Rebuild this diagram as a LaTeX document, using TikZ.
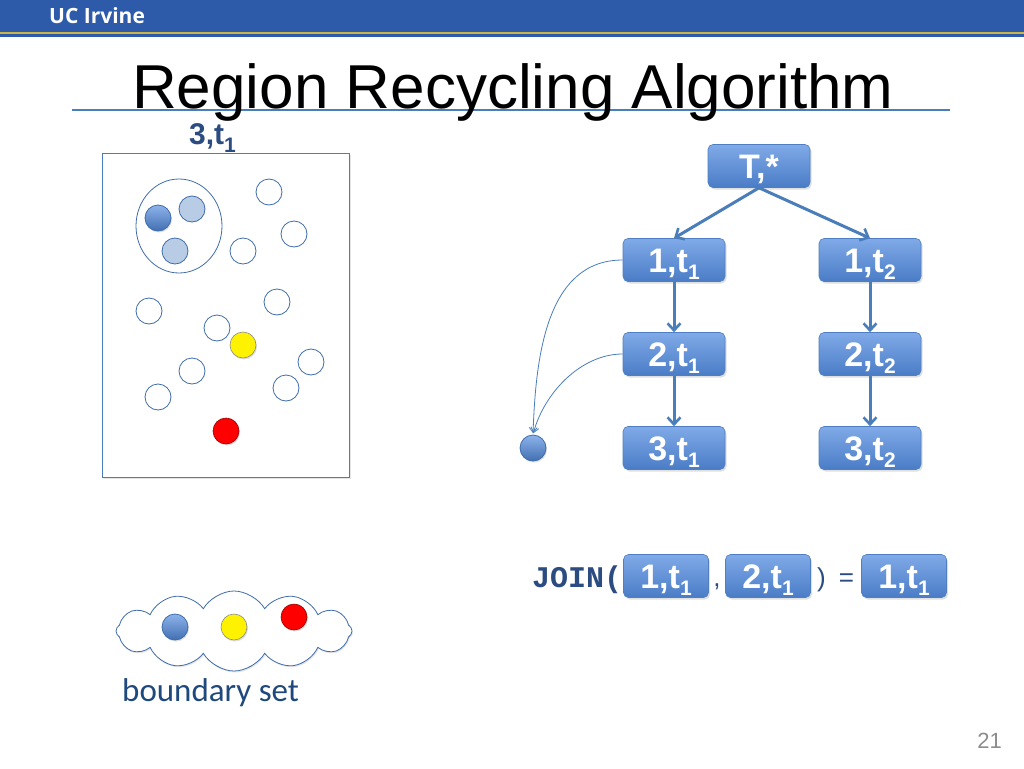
\documentclass[tikz,border=0pt]{standalone}
\usepackage{fontspec}
\setmainfont{Liberation Sans}
\newfontfamily\hdrfont{Open Sans}
\newfontfamily\calfont{Carlito}
\newfontfamily\codefont{Liberation Mono}
\usetikzlibrary{arrows.meta,shapes.symbols,shapes.geometric,shadows}
\definecolor{hdrblue}{HTML}{2D5BAA}
\definecolor{hdrgold}{HTML}{C9B54A}
\definecolor{lineblue}{HTML}{4A7EBB}
\definecolor{circblue}{HTML}{3F6CAB}
\definecolor{boxtop}{HTML}{80AAE8}
\definecolor{boxbot}{HTML}{4A7CC6}
\definecolor{boxedge}{HTML}{4F7FC0}
\definecolor{darkblue}{HTML}{2A4C80}
\definecolor{textblue}{HTML}{1F497D}
\definecolor{ltblue}{HTML}{B8CCE6}
\definecolor{pagegrey}{HTML}{8C8C8C}
\newcommand{\lsub}[2][-7pt]{\raisebox{#1}{\fontsize{21}{21}\selectfont #2}}
\tikzset{
  tbox/.style={rounded corners=5pt, minimum width=102pt, minimum height=43pt,
    top color=boxtop, bottom color=boxbot, draw=boxedge, line width=0.6pt,
    text=white, font=\bfseries\fontsize{34}{34}\selectfont, inner sep=0pt,
    text height=25pt, text depth=0pt,
    drop shadow={shadow xshift=1.5pt, shadow yshift=-2pt, opacity=0.25}},
  jbox/.style={tbox, minimum width=85pt},
  ring/.style={circle, minimum size=26pt, inner sep=0pt, draw=circblue, line width=0.8pt, fill=white},
  dotblue/.style={circle, minimum size=26pt, inner sep=0pt, draw=circblue, line width=0.8pt,
    top color=boxtop!90!white, bottom color=boxbot!90!black,
    drop shadow={shadow xshift=1pt, shadow yshift=-1.5pt, opacity=0.25}},
  dotlight/.style={circle, minimum size=26pt, inner sep=0pt, draw=circblue, line width=0.8pt, fill=ltblue},
  dotyellow/.style={circle, minimum size=26pt, inner sep=0pt, draw=black!45, line width=0.6pt, fill=yellow,
    drop shadow={shadow xshift=1pt, shadow yshift=-1.5pt, opacity=0.25}},
  dotred/.style={circle, minimum size=26pt, inner sep=0pt, draw=red!60!black, line width=0.6pt, fill=red,
    drop shadow={shadow xshift=1pt, shadow yshift=-1.5pt, opacity=0.25}},
  treearrow/.style={draw=lineblue, line width=3pt, -{Straight Barb[length=7pt, width=13pt, line width=2.6pt]}},
  thinarrow/.style={draw=lineblue, line width=0.8pt, -{Straight Barb[length=5pt, width=8pt]}},
}
\begin{document}
\begin{tikzpicture}[x=1pt,y=-1pt]
\useasboundingbox (0,0) rectangle (1024,768);
\fill[white] (0,0) rectangle (1024,768);
% header
\fill[hdrblue] (0,0) rectangle (1024,32);
\fill[hdrgold] (0,32) rectangle (1024,34.5);
\fill[hdrblue] (0,34.5) rectangle (1024,37.5);
\node[anchor=base west, inner sep=0pt, text=white, font=\hdrfont\bfseries\fontsize{21}{21}\selectfont] (hdr) at (49,24) {UC Irvine};
% title
\draw[lineblue, line width=1.2pt] (72,110) -- (950,110);
\node[anchor=base west, inner sep=0pt, font=\fontsize{62}{62}\selectfont] (title) at (132,108) {Region Recycling Algorithm};
% region label
\node[anchor=base west, inner sep=0pt, text=darkblue, font=\bfseries\fontsize{30}{30}\selectfont] (reglabel) at (189,144) {3,t\lsub[-8pt]{1}};
% region box
\node[draw=lineblue, line width=1pt, minimum width=247pt, minimum height=324pt, inner sep=0pt,
  drop shadow={shadow xshift=1.5pt, shadow yshift=-1.5pt, opacity=0.2}, fill=white] (region) at (225.5,315) {};
\node[ellipse, draw=circblue, line width=0.8pt, minimum width=86pt, minimum height=94pt, inner sep=0pt] (grp) at (179,226) {};
\node[dotblue] (g1) at (158,218) {};
\node[dotlight] (g2) at (192,209) {};
\node[dotlight] (g3) at (175,251) {};
\node[ring] (r1) at (269,192) {};
\node[ring] (r2) at (294,234) {};
\node[ring] (r3) at (243,251) {};
\node[ring] (r4) at (277,302) {};
\node[ring] (r5) at (149,311) {};
\node[ring] (r6) at (217,328) {};
\node[dotyellow] (ry) at (243,345) {};
\node[ring] (r7) at (311,362) {};
\node[ring] (r8) at (192,371) {};
\node[ring] (r9) at (286,388) {};
\node[ring] (r10) at (158,397) {};
\node[dotred] (rr) at (226,431) {};
% tree
\node[tbox] (T) at (759,166) {T,*};
\node[tbox] (a1) at (674,260) {1,t\lsub{1}};
\node[tbox] (b1) at (870,260) {1,t\lsub{2}};
\node[tbox] (a2) at (674,354) {2,t\lsub{1}};
\node[tbox] (b2) at (870,354) {2,t\lsub{2}};
\node[tbox] (a3) at (674,448) {3,t\lsub{1}};
\node[tbox] (b3) at (870,448) {3,t\lsub{2}};
\node[dotblue] (bd) at (533,448) {};
\draw[treearrow] (T.south) -- (a1.north);
\draw[treearrow] (T.south) -- (b1.north);
\draw[treearrow] (a1.south) -- (a2.north);
\draw[treearrow] (a2.south) -- (a3.north);
\draw[treearrow] (b1.south) -- (b2.north);
\draw[treearrow] (b2.south) -- (b3.north);
\draw[thinarrow, shorten >=1.5pt] (a1.west) to[out=180, in=88, looseness=1.0] (bd.north);
\draw[thinarrow, shorten >=1.5pt] (a2.west) to[out=180, in=75, looseness=0.9] (bd.north);
% join
\node[anchor=base west, inner sep=0pt, text=darkblue, font=\codefont\bfseries\fontsize{30}{30}\selectfont] (join) at (532,587) {JOIN(};
\node[jbox] (j1) at (666,576) {1,t\lsub{1}};
\node[anchor=base, inner sep=0pt, text=darkblue, font=\fontsize{26}{26}\selectfont] (comma) at (717,586) {,};
\node[jbox] (j2) at (768,576) {2,t\lsub{1}};
\node[anchor=base west, inner sep=0pt, text=darkblue, font=\fontsize{26}{26}\selectfont] (eq) at (817,586) {)\enspace=};
\node[jbox] (j3) at (904,576) {1,t\lsub{1}};
% boundary set
\node[cloud, cloud puffs=12, cloud puff arc=120, aspect=2.7, draw=circblue, line width=0.8pt, fill=white,
  minimum width=236pt, minimum height=80pt, inner sep=0pt,
  drop shadow={shadow xshift=1pt, shadow yshift=-1.5pt, opacity=0.2}] (cloud) at (234,631) {};
\node[dotblue] (c1) at (175,627) {};
\node[dotyellow] (c2) at (234,627) {};
\node[dotred] (c3) at (294,617) {};
\node[anchor=base west, inner sep=0pt, text=textblue, font=\calfont\fontsize{33}{33}\selectfont] (bset) at (122,701) {boundary set};
% page number
\node[anchor=base east, inner sep=0pt, text=pagegrey, font=\fontsize{22}{22}\selectfont] (pg) at (1002,748) {21};
\end{tikzpicture}
\end{document}
